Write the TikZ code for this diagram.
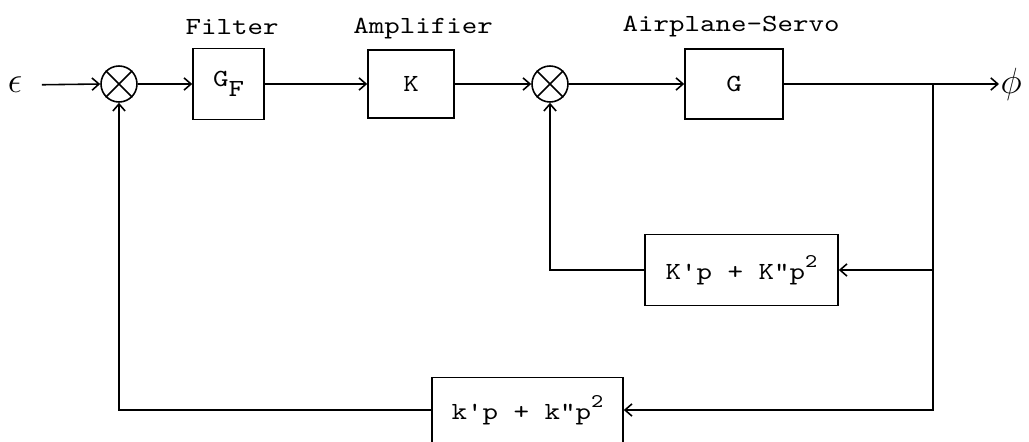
\documentclass[tikz,border=0pt]{standalone}
\usepackage{fontspec}
\setmonofont[FakeStretch=1.2]{lmmono10-regular.otf}
\usepackage{tikz}
\usetikzlibrary{arrows.meta, positioning, calc}

\begin{document}
\begin{tikzpicture}[x=1cm, y=1cm, line width=0.9pt,
  blk/.style={rectangle, draw,
    font=\fontsize{14pt}{17pt}\selectfont\ttfamily,
    text centered, inner sep=2pt},
  sumnode/.style={circle, draw, minimum size=0.72cm, inner sep=0pt},
  arr/.style={-{Straight Barb[length=4pt, width=7pt]}},
  ttl/.style={font=\fontsize{14pt}{17pt}\selectfont\ttfamily,
    inner sep=1pt, anchor=base},
  sig/.style={font=\fontsize{21pt}{24pt}\selectfont, inner sep=0.5pt}
]
\useasboundingbox (0,0) rectangle (20.58,-8.84);

\node[sig] at (0.30,-1.70) (eps) {$\epsilon$};
\node[sumnode] at (2.38,-1.68) (sum1) {};
\node[blk, minimum width=1.42cm, minimum height=1.42cm]
  at (4.57,-1.68) (gf) {G\raisebox{-0.42em}{F}};
\node[blk, minimum width=1.72cm, minimum height=1.36cm]
  at (8.22,-1.68) (amp) {K};
\node[sumnode] at (11.00,-1.68) (sum2) {};
\node[blk, minimum width=1.96cm, minimum height=1.40cm]
  at (14.68,-1.68) (g) {G};
\node[sig, anchor=west] at (19.98,-1.68) (phi) {$\phi$};

\node[blk, minimum width=3.86cm, minimum height=1.42cm]
  at (14.83,-5.40) (fb1) {K'p + K"p\raisebox{0.5em}{\fontsize{11pt}{12pt}\selectfont 2}};
\node[blk, minimum width=3.82cm, minimum height=1.30cm]
  at (10.55,-8.20) (fb2) {k'p + k"p\raisebox{0.5em}{\fontsize{11pt}{12pt}\selectfont 2}};

\node[ttl] at (4.64,-0.70) (lfilt) {Filter};
\node[ttl] at (8.46,-0.67) (lamp) {Amplifier};
\node[ttl] at (14.62,-0.64) (lservo) {Airplane-Servo};

\coordinate (br) at (18.66,-1.68);

\foreach \s in {sum1, sum2}
  \draw (\s.north west) -- (\s.south east) (\s.north east) -- (\s.south west);

\draw[arr, shorten <=0.36cm] (eps.east) -- (sum1.west);
\draw[arr] (sum1.east) -- (gf.west);
\draw[arr] (gf.east) -- (amp.west);
\draw[arr] (amp.east) -- (sum2.west);
\draw[arr] (sum2.east) -- (g.west);
\draw[arr] (g.east) -- (phi.west);

\draw[arr] (br) |- (fb1.east);
\draw[arr] (fb1.west) -| (sum2.south);
\draw[arr] (br) |- (fb2.east);
\draw[arr] (fb2.west) -| (sum1.south);
\end{tikzpicture}
\end{document}
